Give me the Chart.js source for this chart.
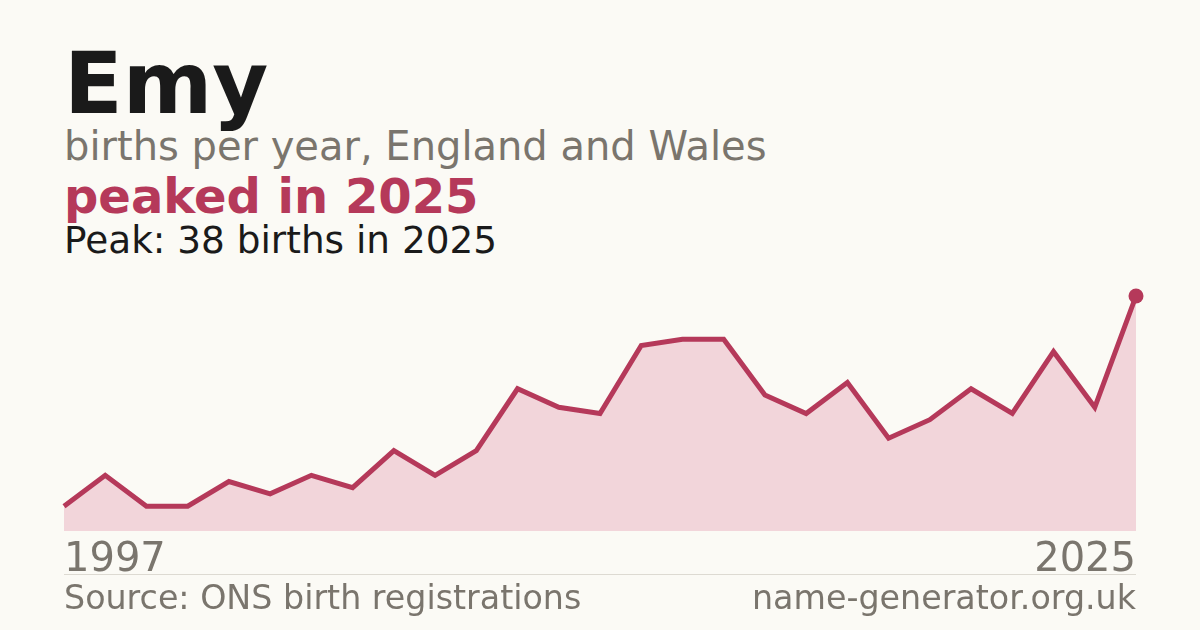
<!DOCTYPE html>
<html>
<head>
<meta charset="utf-8">
<script src="https://cdn.jsdelivr.net/npm/chart.js@4.4.1/dist/chart.umd.min.js"></script>
<style>
  html, body { margin: 0; padding: 0; }
  body {
    width: 1200px; height: 630px; overflow: hidden; position: relative;
    background: #fbfaf5; font-family: "DejaVu Sans", sans-serif;
  }
  .t { position: absolute; left: 64px; line-height: 1; white-space: nowrap; }
  #name { top: 40px; font-size: 86px; font-weight: bold; color: #1a1a1a; }
  #sub { top: 126px; font-size: 40px; color: #7a756d; }
  #trend { top: 172px; font-size: 48px; font-weight: bold; color: #b5395a; }
  #peak { top: 222px; font-size: 37.4px; color: #1a1a1a; }
  #box { position: absolute; left: 54px; top: 286px; width: 1092px; height: 305px; }
  #rule { position: absolute; left: 64px; width: 1072px; top: 574px; height: 1px; background: #dddad2; }
  #src { top: 581px; font-size: 33.3px; color: #7a756d; }
  #site { top: 581px; left: auto; right: 64px; font-size: 33.3px; color: #7a756d; }
</style>
</head>
<body>
<div class="t" id="name">Emy</div>
<div class="t" id="sub">births per year, England and Wales</div>
<div class="t" id="trend">peaked in 2025</div>
<div class="t" id="peak">Peak: 38 births in 2025</div>
<div id="box"><canvas id="myChart"></canvas></div>
<div id="rule"></div>
<div class="t" id="src">Source: ONS birth registrations</div>
<div class="t" id="site">name-generator.org.uk</div>
<script>
// years with a recorded count (27 points between 1997 and 2025)
var years = ["1997", "1998", "1999", "2000", "2001", "2002", "2003", "2004", "2005",
  "2006", "2007", "2008", "2009", "2010", "2011", "2012", "2013", "2014", "2015",
  "2016", "2017", "2018", "2019", "2020", "2022", "2023", "2025"];
var births = [4, 9, 4, 4, 8, 6, 9, 7, 13, 9, 13, 23, 20, 19, 30, 31, 31, 22, 19,
  24, 15, 18, 23, 19, 29, 20, 38];
var tickYears = ["1997", "2025"];

var lineColor = "#b5395a";
var fillColor = "#f2d5da";
var last = births.length - 1;

new Chart("myChart", {
  type: "line",
  data: {
    labels: years,
    datasets: [
      {
        data: births,
        borderColor: lineColor,
        backgroundColor: fillColor,
        borderWidth: 5,
        fill: "origin",
        tension: 0,
        pointRadius: function (c) { return c.dataIndex === last ? 7.5 : 0; },
        pointBackgroundColor: lineColor,
        pointBorderWidth: 0,
        clip: false,
      },
    ],
  },
  options: {
    responsive: true,
    maintainAspectRatio: false,
    animation: false,
    layout: { padding: { left: 10, right: 10, top: 10, bottom: 0 } },
    plugins: { legend: { display: false }, tooltip: { enabled: false } },
    scales: {
      y: { display: false, min: 0, max: 38 },
      x: {
        offset: false,
        grid: { display: false, drawTicks: false },
        border: { display: false },
        ticks: {
          autoSkip: false,
          maxRotation: 0,
          align: "inner",
          padding: 6,
          color: "#7a756d",
          font: { family: "DejaVu Sans", size: 40 },
          callback: function (v, i) {
            var y = years[i];
            return tickYears.indexOf(y) >= 0 ? y : "";
          },
        },
      },
    },
  },
});
</script>
</body>
</html>
